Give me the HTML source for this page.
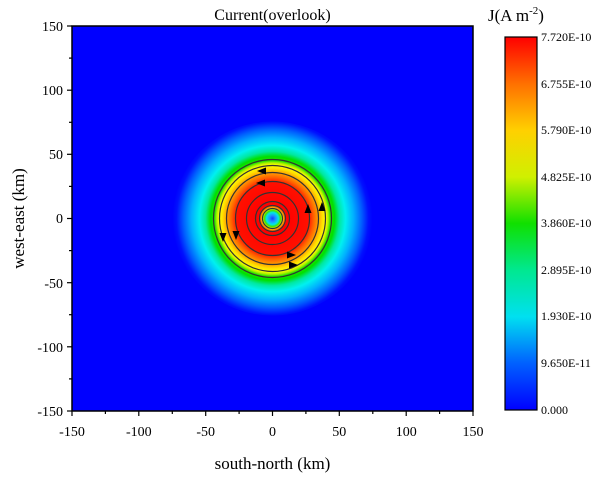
<!DOCTYPE html><html><head><style>body{margin:0;background:#fff}svg{display:block;font-family:"Liberation Serif",serif}</style></head><body>
<svg width="600" height="478" viewBox="0 0 600 478">
<defs>
<radialGradient id="rg" cx="272.5" cy="218.5" r="100" gradientUnits="userSpaceOnUse">
<stop offset="0" stop-color="#1040ff"/>
<stop offset="0.03" stop-color="#2090ff"/>
<stop offset="0.06" stop-color="#00e8e8"/>
<stop offset="0.08" stop-color="#40e000"/>
<stop offset="0.10" stop-color="#f0ff00"/>
<stop offset="0.12" stop-color="#ff6000"/>
<stop offset="0.14" stop-color="#ff0000"/>
<stop offset="0.36" stop-color="#ff1000"/>
<stop offset="0.41" stop-color="#ff6000"/>
<stop offset="0.46" stop-color="#ffa000"/>
<stop offset="0.50" stop-color="#ffe000"/>
<stop offset="0.535" stop-color="#ffff00"/>
<stop offset="0.56" stop-color="#a0f000"/>
<stop offset="0.58" stop-color="#20e000"/>
<stop offset="0.62" stop-color="#00e000"/>
<stop offset="0.67" stop-color="#00e8a0"/>
<stop offset="0.73" stop-color="#00f0f0"/>
<stop offset="0.81" stop-color="#00b0ff"/>
<stop offset="0.89" stop-color="#0060ff"/>
<stop offset="0.96" stop-color="#0010ff"/>
<stop offset="1" stop-color="#0000ff"/>
</radialGradient>
<linearGradient id="cb" x1="0" y1="1" x2="0" y2="0">
<stop offset="0" stop-color="#0000ff"/>
<stop offset="0.125" stop-color="#0060ff"/>
<stop offset="0.25" stop-color="#00e0f0"/>
<stop offset="0.375" stop-color="#00e890"/>
<stop offset="0.5" stop-color="#10e000"/>
<stop offset="0.625" stop-color="#d0f000"/>
<stop offset="0.75" stop-color="#ffd000"/>
<stop offset="0.875" stop-color="#ff7000"/>
<stop offset="1" stop-color="#ff0000"/>
</linearGradient>
</defs>
<rect x="72" y="26" width="401" height="385" fill="#0000ff"/>
<ellipse cx="272.5" cy="218.5" rx="100" ry="97" fill="url(#rg)"/>
<g fill="none" stroke="#333" stroke-width="1.2">
<circle cx="272.5" cy="218.5" r="59"/>
<circle cx="272.5" cy="218.5" r="53"/>
<circle cx="272.5" cy="218.5" r="46"/>
<circle cx="272.5" cy="218.5" r="37"/>
<circle cx="272.5" cy="218.5" r="26"/>
<circle cx="272.5" cy="218.5" r="17"/>
<circle cx="272.5" cy="218.5" r="13"/>
<circle cx="272.5" cy="218.5" r="10"/>
</g>
<g fill="#000">
<polygon points="257,171 266,167.5 266,174.5"/>
<polygon points="256,183 265,179.5 265,186.5"/>
<polygon points="308,204 304.5,213 311.5,213"/>
<polygon points="322,202 318.5,211 325.5,211"/>
<polygon points="223,242 219.5,233 226.5,233"/>
<polygon points="236,240 232.5,231 239.5,231"/>
<polygon points="296,255 287,251.5 287,258.5"/>
<polygon points="298,265 289,261.5 289,268.5"/>
</g>
<rect x="72" y="26" width="401" height="385" fill="none" stroke="#000" stroke-width="1.5"/>
<g stroke="#000" stroke-width="1.2">
<line x1="72" y1="411" x2="72" y2="416"/><line x1="138.8" y1="411" x2="138.8" y2="416"/><line x1="205.7" y1="411" x2="205.7" y2="416"/><line x1="272.5" y1="411" x2="272.5" y2="416"/><line x1="339.3" y1="411" x2="339.3" y2="416"/><line x1="406.2" y1="411" x2="406.2" y2="416"/><line x1="473" y1="411" x2="473" y2="416"/>
<line x1="105.4" y1="411" x2="105.4" y2="414"/><line x1="172.3" y1="411" x2="172.3" y2="414"/><line x1="239.1" y1="411" x2="239.1" y2="414"/><line x1="305.9" y1="411" x2="305.9" y2="414"/><line x1="372.8" y1="411" x2="372.8" y2="414"/><line x1="439.6" y1="411" x2="439.6" y2="414"/>
<line x1="67" y1="26" x2="72" y2="26"/><line x1="67" y1="90.2" x2="72" y2="90.2"/><line x1="67" y1="154.3" x2="72" y2="154.3"/><line x1="67" y1="218.5" x2="72" y2="218.5"/><line x1="67" y1="282.7" x2="72" y2="282.7"/><line x1="67" y1="346.8" x2="72" y2="346.8"/><line x1="67" y1="411" x2="72" y2="411"/>
<line x1="69" y1="58.1" x2="72" y2="58.1"/><line x1="69" y1="122.3" x2="72" y2="122.3"/><line x1="69" y1="186.4" x2="72" y2="186.4"/><line x1="69" y1="250.6" x2="72" y2="250.6"/><line x1="69" y1="314.7" x2="72" y2="314.7"/><line x1="69" y1="378.9" x2="72" y2="378.9"/>
</g>
<g font-size="14" fill="#000" text-anchor="middle">
<text x="72" y="436">-150</text><text x="138.8" y="436">-100</text><text x="205.7" y="436">-50</text><text x="272.5" y="436">0</text><text x="339.3" y="436">50</text><text x="406.2" y="436">100</text><text x="473" y="436">150</text>
</g>
<g font-size="14" fill="#000" text-anchor="end">
<text x="63" y="31">150</text><text x="63" y="95">100</text><text x="63" y="159">50</text><text x="63" y="223">0</text><text x="63" y="288">-50</text><text x="63" y="352">-100</text><text x="63" y="416">-150</text>
</g>
<text x="272.5" y="469" font-size="17" text-anchor="middle">south-north (km)</text>
<text transform="translate(24,218.5) rotate(-90)" font-size="17" text-anchor="middle">west-east (km)</text>
<text x="272.5" y="20" font-size="16" text-anchor="middle">Current(overlook)</text>
<text x="488" y="21" font-size="17">J(A m<tspan font-size="11" dy="-7">-2</tspan><tspan dy="7">)</tspan></text>
<rect x="505" y="37" width="32" height="373" fill="url(#cb)" stroke="#000" stroke-width="1.2"/>
<g font-size="12" fill="#000">
<text x="541" y="41">7.720E-10</text><text x="541" y="88">6.755E-10</text><text x="541" y="134">5.790E-10</text><text x="541" y="181">4.825E-10</text><text x="541" y="227">3.860E-10</text><text x="541" y="274">2.895E-10</text><text x="541" y="320">1.930E-10</text><text x="541" y="367">9.650E-11</text><text x="541" y="414">0.000</text>
</g>
</svg></body></html>
